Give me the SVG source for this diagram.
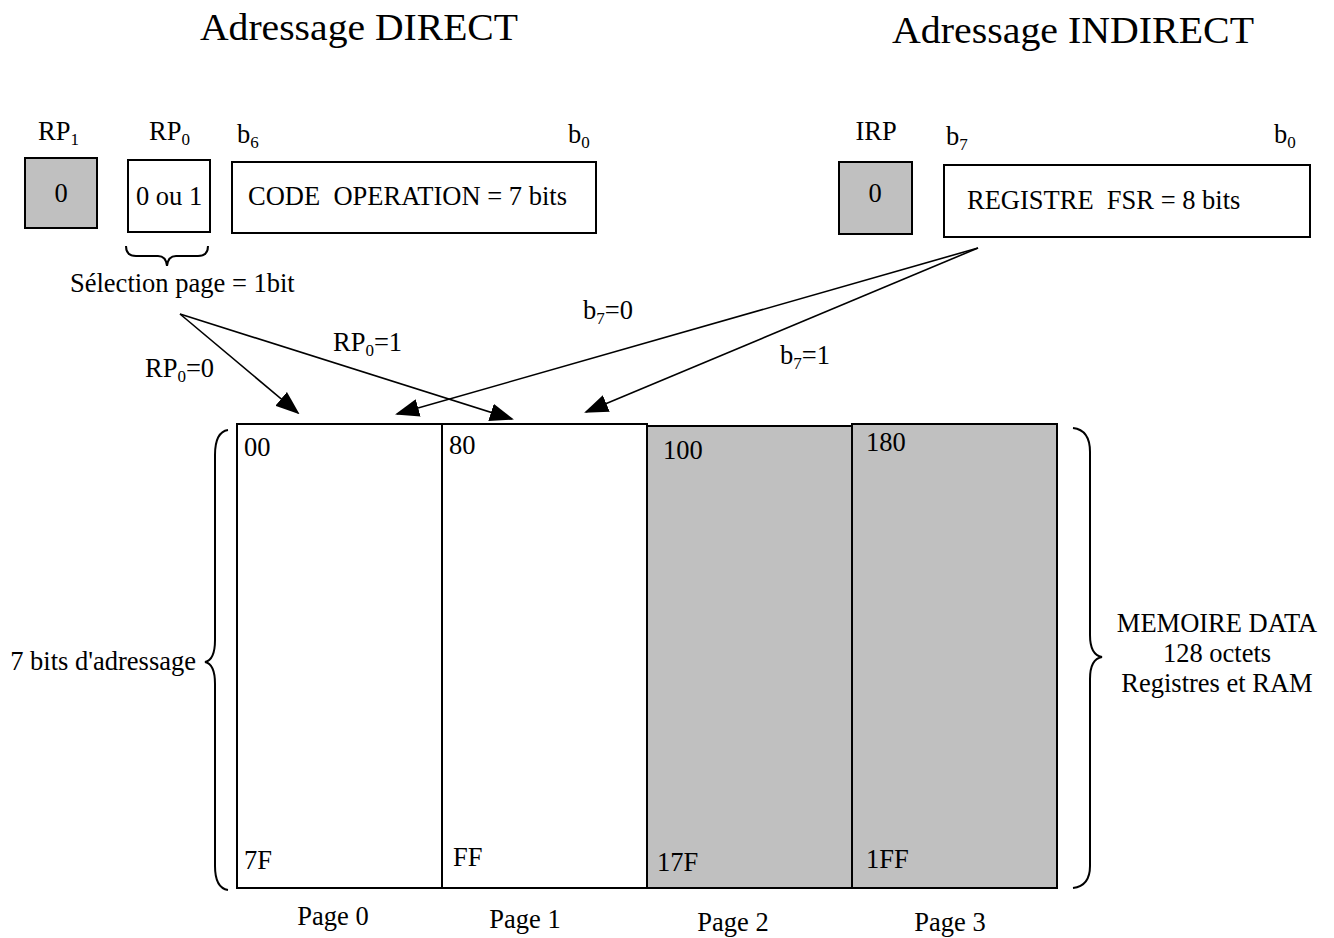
<svg xmlns="http://www.w3.org/2000/svg" width="1334" height="938" viewBox="0 0 1334 938">
<style>
text{font-family:"Liberation Serif","Times New Roman",serif;fill:#000}
.t{font-size:26.5px}
.title{font-size:38px}
.sub{font-size:17px}
.box{stroke:#000;stroke-width:2}
.g{fill:#c0c0c0}
.w{fill:#fff}
.ln{stroke:#000;stroke-width:1.6;fill:none}
.br{stroke:#000;stroke-width:2;fill:none}
</style>
<defs>
<marker id="ah" markerWidth="24" markerHeight="18" refX="22" refY="9" orient="auto" markerUnits="userSpaceOnUse">
<path d="M0,0 L24,9 L0,18 Z" fill="#000"/>
</marker>
</defs>
<rect width="1334" height="938" fill="#fff"/>

<g id="titles">
<text class="title" x="200" y="40" textLength="318" lengthAdjust="spacingAndGlyphs">Adressage DIRECT</text>
<text class="title" x="892" y="43" textLength="362" lengthAdjust="spacingAndGlyphs">Adressage INDIRECT</text>
</g>

<g id="rp1">
<text class="t" x="38" y="140">RP<tspan class="sub" dy="5">1</tspan></text>
<rect class="box g" x="25" y="158" width="72" height="70"/>
<text class="t" x="61" y="202" text-anchor="middle">0</text>
</g>

<g id="rp0">
<text class="t" x="149" y="140">RP<tspan class="sub" dy="5">0</tspan></text>
<rect class="box w" x="128" y="160" width="82" height="72"/>
<text class="t" x="169" y="205" text-anchor="middle">0 ou 1</text>
<path class="br" d="M126,246 Q126,256 136,256 L158,256 Q166,256 167,266 Q168,256 176,256 L198,256 Q208,256 208,246"/>
<text class="t" x="70" y="292">Sélection page = 1bit</text>
</g>

<g id="code">
<text class="t" x="237" y="143">b<tspan class="sub" dy="5">6</tspan></text>
<text class="t" x="568" y="143">b<tspan class="sub" dy="5">0</tspan></text>
<rect class="box w" x="232" y="162" width="364" height="71"/>
<text class="t" x="248" y="205" xml:space="preserve">CODE  OPERATION = 7 bits</text>
</g>

<g id="irp">
<text class="t" x="876" y="140" text-anchor="middle">IRP</text>
<rect class="box g" x="839" y="162" width="73" height="72"/>
<text class="t" x="875" y="202" text-anchor="middle">0</text>
</g>

<g id="fsr">
<text class="t" x="946" y="145">b<tspan class="sub" dy="5">7</tspan></text>
<text class="t" x="1274" y="143">b<tspan class="sub" dy="5">0</tspan></text>
<rect class="box w" x="944" y="165" width="366" height="72"/>
<text class="t" x="967" y="209" xml:space="preserve">REGISTRE  FSR = 8 bits</text>
</g>

<g id="connectors">
<line class="ln" x1="180" y1="314" x2="298" y2="413" marker-end="url(#ah)"/>
<line class="ln" x1="180" y1="314" x2="512" y2="419" marker-end="url(#ah)"/>
<line class="ln" x1="978" y1="248" x2="397" y2="414" marker-end="url(#ah)"/>
<line class="ln" x1="978" y1="248" x2="586" y2="412" marker-end="url(#ah)"/>
<text class="t" x="145" y="377">RP<tspan class="sub" dy="5">0</tspan><tspan dy="-5">=0</tspan></text>
<text class="t" x="333" y="351">RP<tspan class="sub" dy="5">0</tspan><tspan dy="-5">=1</tspan></text>
<text class="t" x="583" y="319">b<tspan class="sub" dy="5">7</tspan><tspan dy="-5">=0</tspan></text>
<text class="t" x="780" y="364">b<tspan class="sub" dy="5">7</tspan><tspan dy="-5">=1</tspan></text>
</g>

<g id="page0">
<rect class="box w" x="237" y="424" width="205" height="464"/>
<text class="t" x="244" y="456">00</text>
<text class="t" x="244" y="869">7F</text>
<text class="t" x="333" y="925" text-anchor="middle">Page 0</text>
</g>
<g id="page1">
<rect class="box w" x="442" y="424" width="205" height="464"/>
<text class="t" x="449" y="454">80</text>
<text class="t" x="453" y="866">FF</text>
<text class="t" x="525" y="928" text-anchor="middle">Page 1</text>
</g>
<g id="page2">
<rect class="box g" x="647" y="426" width="205" height="462"/>
<text class="t" x="663" y="459">100</text>
<text class="t" x="657" y="871">17F</text>
<text class="t" x="733" y="931" text-anchor="middle">Page 2</text>
</g>
<g id="page3">
<rect class="box g" x="852" y="424" width="205" height="464"/>
<text class="t" x="866" y="451">180</text>
<text class="t" x="866" y="868">1FF</text>
<text class="t" x="950" y="931" text-anchor="middle">Page 3</text>
</g>

<g id="left-brace">
<path class="br" d="M228,430 Q215,432 215,455 L215,640 Q215,660 205,662 Q215,664 215,684 L215,866 Q215,888 228,890"/>
<text class="t" x="196" y="670" text-anchor="end">7 bits d'adressage</text>
</g>

<g id="right-brace">
<path class="br" d="M1073,428 Q1090,430 1090,452 L1090,635 Q1090,655 1102,657 Q1090,659 1090,679 L1090,866 Q1090,886 1073,888"/>
<text class="t" x="1217" y="632" text-anchor="middle">MEMOIRE DATA</text>
<text class="t" x="1217" y="662" text-anchor="middle">128 octets</text>
<text class="t" x="1217" y="692" text-anchor="middle">Registres et RAM</text>
</g>
</svg>
